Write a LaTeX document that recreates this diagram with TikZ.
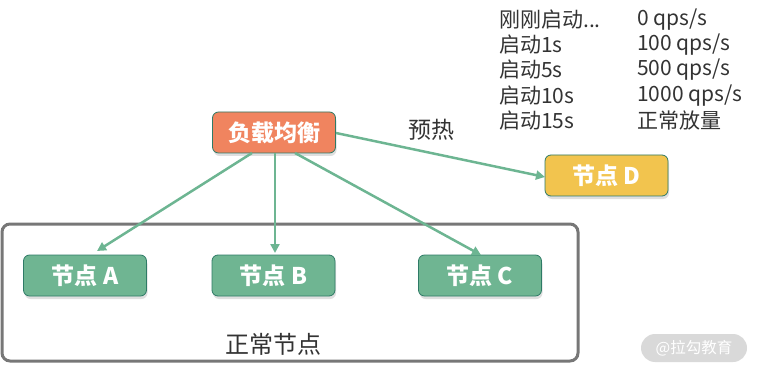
\documentclass[tikz,border=0pt]{standalone}
\usepackage{fontspec}
\setmainfont{Noto Sans CJK SC}
\usetikzlibrary{shadows,arrows.meta}
\definecolor{cgreen}{HTML}{6FB592}
\definecolor{cline}{HTML}{6DB592}
\definecolor{corange}{HTML}{F0845F}
\definecolor{cyellow}{HTML}{F2C44E}
\definecolor{cborder}{HTML}{2E7A66}
\definecolor{ctext}{HTML}{333333}
\definecolor{cbox}{HTML}{777777}
\begin{document}
\begin{tikzpicture}[x=1pt,y=-1pt,
  nodebox/.style={draw=cborder, line width=0.8pt, rounded corners=6pt, minimum width=123pt, minimum height=41pt, text=white, font=\fontsize{23}{26}\selectfont\bfseries, drop shadow={shadow xshift=1pt, shadow yshift=-3pt, opacity=0.25}},
  conn/.style={draw=cline, line width=2.5pt, -{Triangle[length=9pt,width=9pt]}},
  lbl/.style={text=ctext, font=\fontsize{21}{24}\selectfont, anchor=west, inner sep=0pt}]
\useasboundingbox (0,0) rectangle (757,374);
\node[draw=cbox, line width=3pt, rounded corners=8pt, minimum width=576pt, minimum height=137pt, inner sep=0pt] (grp) at (290,292.5) {};
\node[nodebox, fill=corange] (lb) at (274,132.5) {负载均衡};
\node[nodebox, fill=cyellow] (d) at (606.5,175.5) {节点 D};
\node[nodebox, fill=cgreen] (a) at (85,275.5) {节点 A};
\node[nodebox, fill=cgreen] (b) at (273.5,275.5) {节点 B};
\node[nodebox, fill=cgreen] (c) at (480,275.5) {节点 C};
\node[text=ctext, font=\fontsize{24}{28}\selectfont] (zc) at (273,344) {正常节点};
\node[text=ctext, font=\fontsize{23}{26}\selectfont] (yr) at (431,130) {预热};
\coordinate (a1) at (252,153);
\coordinate (a2) at (97,251);
\coordinate (b1) at (275,153);
\coordinate (b2) at (275,253);
\coordinate (c1) at (295,153);
\coordinate (c2) at (481,255);
\coordinate (d1) at (336,133);
\coordinate (d2) at (545,177);
\draw[conn] (a1) -- (a2);
\draw[conn] (b1) -- (b2);
\draw[conn] (c1) -- (c2);
\draw[conn] (d1) -- (d2);
\node[lbl] (l1) at (499,20) {刚刚启动...};
\node[lbl] (l2) at (499,45) {启动1s};
\node[lbl] (l3) at (499,70) {启动5s};
\node[lbl] (l4) at (499,96) {启动10s};
\node[lbl] (l5) at (499,121) {启动15s};
\node[lbl] (r1) at (637,20) {0 qps/s};
\node[lbl] (r2) at (637,45) {100 qps/s};
\node[lbl] (r3) at (637,70) {500 qps/s};
\node[lbl] (r4) at (637,96) {1000 qps/s};
\node[lbl] (r5) at (637,121) {正常放量};
\node[fill=black!15, rounded corners=14pt, minimum width=106pt, minimum height=28pt, text=white, font=\fontsize{15.5}{18}\selectfont] (wm) at (694,348) {@拉勾教育};
\end{tikzpicture}
\end{document}
